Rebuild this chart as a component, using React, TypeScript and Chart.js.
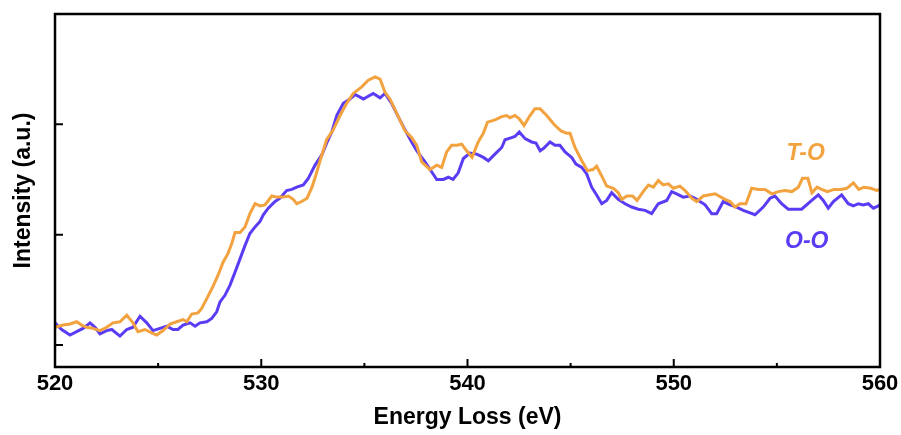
import React, { useEffect, useRef } from "react";
import { Chart, registerables } from "chart.js";
Chart.register(...registerables);

// Energy loss (eV) and intensity (a.u.)
const blueX = [
  520.00,520.32,520.73,521.05,521.36,521.70,521.94,522.18,522.51,522.75,
  523.15,523.48,523.78,524.12,524.45,524.75,525.09,525.42,525.72,525.96,
  526.21,526.55,526.79,527.03,527.36,527.60,527.84,528.00,528.24,528.48,
  528.73,528.97,529.21,529.45,529.70,529.94,530.10,530.34,530.67,530.91,
  531.23,531.48,531.72,532.04,532.28,532.61,532.93,533.17,533.42,533.66,
  533.98,534.30,534.55,534.95,535.43,535.76,536.00,536.32,536.64,536.97,
  537.29,537.54,537.94,538.26,538.51,538.83,539.07,539.30,539.55,539.80,
  540.12,540.45,540.77,541.01,541.33,541.66,541.82,542.14,542.30,542.51,
  542.79,543.11,543.32,543.52,543.68,544.00,544.24,544.48,544.73,545.05,
  545.26,545.54,545.78,546.02,546.26,546.51,546.75,546.99,547.31,547.64,
  547.96,548.28,548.61,548.93,549.25,549.66,549.90,550.14,550.46,550.79,
  551.03,551.27,551.52,551.84,552.08,552.40,552.73,553.05,553.37,553.94,
  554.34,554.67,554.91,555.23,555.55,556.20,556.69,557.01,557.25,557.49,
  557.74,558.14,558.46,558.71,558.95,559.19,559.43,559.68,559.92,560.00,
];
const blueY = [
  0.20,0.14,0.09,0.12,0.15,0.20,0.16,0.10,0.13,0.14,
  0.08,0.14,0.16,0.26,0.20,0.13,0.15,0.17,0.14,0.14,
  0.18,0.20,0.17,0.20,0.21,0.24,0.30,0.39,0.45,0.54,
  0.66,0.78,0.90,1.01,1.07,1.12,1.18,1.24,1.30,1.33,
  1.40,1.41,1.43,1.45,1.51,1.63,1.72,1.83,1.93,2.08,
  2.19,2.23,2.27,2.23,2.28,2.24,2.28,2.19,2.07,1.95,
  1.84,1.76,1.66,1.57,1.50,1.50,1.52,1.50,1.56,1.69,
  1.74,1.73,1.70,1.67,1.73,1.79,1.86,1.88,1.89,1.93,
  1.87,1.84,1.83,1.76,1.78,1.84,1.81,1.81,1.75,1.70,
  1.64,1.61,1.55,1.43,1.36,1.28,1.31,1.38,1.32,1.28,
  1.25,1.23,1.22,1.19,1.28,1.31,1.39,1.37,1.34,1.35,
  1.33,1.30,1.27,1.19,1.19,1.30,1.27,1.25,1.22,1.18,
  1.25,1.33,1.35,1.28,1.23,1.23,1.31,1.36,1.31,1.24,
  1.30,1.36,1.28,1.26,1.28,1.27,1.28,1.24,1.26,1.27,
];
const orangeX = [
  520.00,520.39,520.73,521.05,521.29,521.54,521.84,522.18,522.51,522.81,
  523.15,523.48,523.78,524.02,524.36,524.69,524.93,525.24,525.58,525.90,
  526.21,526.39,526.63,526.93,527.11,527.36,527.66,527.90,528.15,528.39,
  528.57,528.73,528.97,529.21,529.45,529.70,529.94,530.18,530.51,530.75,
  531.05,531.31,531.55,531.72,531.96,532.22,532.46,532.65,532.85,533.17,
  533.49,533.82,534.14,534.46,534.87,535.19,535.52,535.76,536.00,536.24,
  536.57,536.97,537.29,537.54,537.78,538.18,538.51,538.75,538.99,539.23,
  539.48,539.72,539.96,540.22,540.52,540.77,540.97,541.33,541.66,541.90,
  542.06,542.30,542.51,542.74,543.03,543.27,543.52,543.84,544.19,544.53,
  544.81,544.97,545.21,545.54,545.82,546.08,546.26,546.51,546.75,547.07,
  547.31,547.48,547.73,548.00,548.22,548.52,548.77,549.01,549.25,549.49,
  549.74,549.98,550.30,550.55,550.87,551.11,551.43,552.00,552.48,552.73,
  552.97,553.21,553.50,553.78,554.10,554.42,554.76,555.07,555.39,555.73,
  556.04,556.24,556.50,556.70,556.95,557.17,557.45,557.77,558.11,558.39,
  558.71,558.97,559.22,559.55,559.84,560.00,
];
const orangeY = [
  0.16,0.18,0.19,0.21,0.18,0.16,0.15,0.13,0.16,0.20,
  0.21,0.27,0.20,0.12,0.14,0.11,0.09,0.13,0.19,0.21,
  0.23,0.21,0.28,0.29,0.33,0.42,0.53,0.63,0.75,0.83,
  0.92,1.02,1.02,1.07,1.19,1.28,1.26,1.27,1.35,1.34,
  1.34,1.35,1.32,1.28,1.30,1.33,1.43,1.54,1.67,1.86,
  1.95,2.08,2.19,2.28,2.34,2.40,2.43,2.41,2.29,2.23,
  2.10,1.94,1.88,1.81,1.66,1.59,1.63,1.61,1.75,1.81,
  1.81,1.82,1.76,1.70,1.84,1.92,2.02,2.04,2.07,2.08,
  2.06,2.08,2.05,1.99,2.08,2.14,2.14,2.08,2.00,1.94,
  1.92,1.92,1.79,1.67,1.58,1.59,1.62,1.53,1.44,1.42,
  1.38,1.32,1.35,1.35,1.31,1.39,1.45,1.43,1.49,1.45,
  1.46,1.42,1.44,1.40,1.33,1.30,1.35,1.37,1.32,1.30,
  1.25,1.28,1.28,1.42,1.41,1.41,1.37,1.39,1.40,1.39,
  1.43,1.51,1.51,1.38,1.43,1.41,1.39,1.41,1.41,1.42,
  1.47,1.41,1.43,1.42,1.40,1.41,
];

const seriesNames = ["T-O", "O-O"];
const seriesLabelX = [556.4, 556.45];
const seriesLabelY = [1.73, 0.94];
const xMajorTicks = [530, 540, 550];
const xMinorTicks = [525, 535, 545, 555];
const yTicks = [0, 1, 2];

const ORANGE = "#F2A23E";
const BLUE = "#5B3CF5";
const FONT = "'Liberation Sans', Arial, sans-serif";

function zip(xs: number[], ys: number[]) {
  const n = Math.min(xs.length, ys.length);
  const out: { x: number; y: number }[] = [];
  for (let i = 0; i < n; i++) out.push({ x: xs[i], y: ys[i] });
  return out;
}

export default function App() {
  const ref = useRef<HTMLCanvasElement | null>(null);

  useEffect(() => {
    if (!ref.current) return;
    const framePlugin = {
      id: "framePlugin",
      afterDatasetsDraw(chart: any) {
        const { ctx, chartArea: a, scales } = chart;
        const x = scales.x;
        const y = scales.y;
        ctx.save();
        ctx.strokeStyle = "#000";
        ctx.lineWidth = 2;
        ctx.beginPath();
        for (const v of xMajorTicks) {
          const px = x.getPixelForValue(v);
          ctx.moveTo(px, a.bottom);
          ctx.lineTo(px, a.bottom - 8);
        }
        for (const v of xMinorTicks) {
          const px = x.getPixelForValue(v);
          ctx.moveTo(px, a.bottom);
          ctx.lineTo(px, a.bottom - 4);
        }
        for (const v of yTicks) {
          const py = y.getPixelForValue(v);
          ctx.moveTo(a.left, py);
          ctx.lineTo(a.left + 8, py);
        }
        ctx.stroke();
        ctx.lineWidth = 2.5;
        ctx.strokeRect(a.left, a.top, a.right - a.left, a.bottom - a.top);

        ctx.font = `italic bold 23px ${FONT}`;
        ctx.textAlign = "center";
        ctx.textBaseline = "middle";
        const colors = [ORANGE, BLUE];
        seriesNames.forEach((name, i) => {
          ctx.fillStyle = colors[i];
          ctx.fillText(
            name,
            x.getPixelForValue(seriesLabelX[i]),
            y.getPixelForValue(seriesLabelY[i])
          );
        });
        ctx.restore();
      },
    };

    const chart = new Chart(ref.current, {
      type: "line",
      data: {
        datasets: [
          {
            label: seriesNames[0],
            data: zip(orangeX, orangeY),
            borderColor: ORANGE,
            borderWidth: 3,
            pointRadius: 0,
            tension: 0,
            fill: false,
          },
          {
            label: seriesNames[1],
            data: zip(blueX, blueY),
            borderColor: BLUE,
            borderWidth: 3,
            pointRadius: 0,
            tension: 0,
            fill: false,
          },
        ],
      },
      options: {
        responsive: false,
        animation: false,
        devicePixelRatio: 1,
        layout: { padding: { top: 14, right: 21, left: 0, bottom: 0 } },
        plugins: {
          legend: { display: false },
          tooltip: { enabled: false },
        },
        scales: {
          x: {
            type: "linear",
            min: 520,
            max: 560,
            grid: { display: false, drawTicks: false },
            border: { display: false },
            ticks: {
              stepSize: 10,
              padding: 4,
              color: "#000",
              font: { family: FONT, size: 22, weight: "bold" },
              maxRotation: 0,
            },
            title: {
              display: true,
              text: "Energy Loss (eV)",
              color: "#000",
              font: { family: FONT, size: 23, weight: "bold" },
              padding: { top: 0, bottom: 4 },
            },
            afterFit(scale: any) {
              scale.height = 68;
              scale.paddingLeft = 0;
              scale.paddingRight = 0;
            },
          },
          y: {
            type: "linear",
            min: -0.2,
            max: 3.0,
            grid: { display: false, drawTicks: false },
            border: { display: false },
            ticks: { display: false },
            title: {
              display: true,
              text: "Intensity (a.u.)",
              color: "#000",
              font: { family: FONT, size: 23, weight: "bold" },
              padding: { top: 10, bottom: 0 },
            },
            afterFit(scale: any) {
              scale.width = 55;
              scale.paddingTop = 0;
              scale.paddingBottom = 0;
            },
          },
        },
      },
      plugins: [framePlugin],
    } as any);
    return () => chart.destroy();
  }, []);

  return (
    <div style={{ position: "absolute", left: 0, top: 0, width: 901, height: 435, background: "#fff" }}>
      <canvas ref={ref} width={901} height={435} />
    </div>
  );
}
